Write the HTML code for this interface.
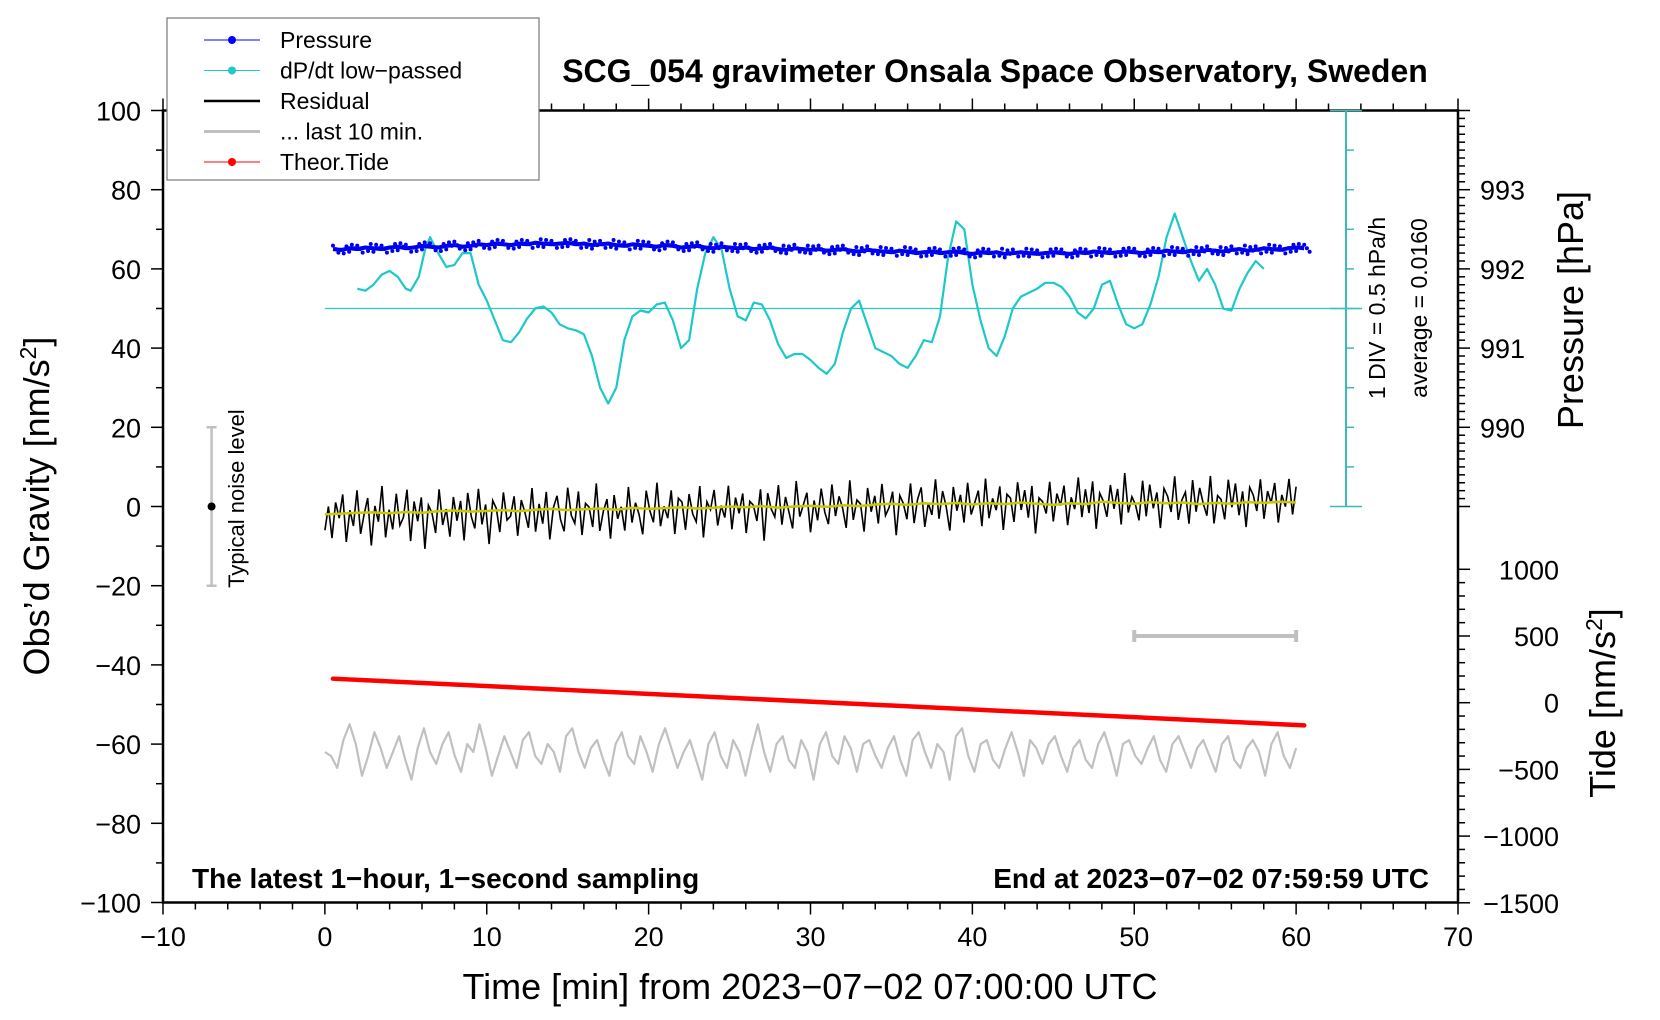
<!DOCTYPE html>
<html><head><meta charset="utf-8"><style>
html,body{margin:0;padding:0;background:#fff}
svg{display:block;font-family:"Liberation Sans",Arial,sans-serif}
</style></head><body>
<svg id="chart" width="1660" height="1020" viewBox="0 0 1660 1020">
<g id="plot"></g>
</svg>
<script>
// ---- data ----
const cyanT=[2,2.5,3,3.5,4,4.5,5,5.3,5.8,6.2,6.5,7,7.5,8,8.5,9,9.5,10,10.5,11,11.5,12,12.5,13,13.5,14,14.5,15,15.5,16,16.5,17,17.5,18,18.5,19,19.5,20,20.5,21,21.5,22,22.5,23,23.5,24,24.5,25,25.5,26,26.5,27,27.5,28,28.5,29,29.5,30,30.5,31,31.5,32,32.5,33,33.5,34,35,35.5,36,36.5,37,37.5,38,38.5,39,39.5,40,40.5,41,41.5,42,42.5,43,44,44.5,45,45.5,46,46.5,47,47.5,48,48.5,49,49.5,50,50.5,51,51.5,52,52.5,53,53.5,54,54.5,55,55.5,56,56.5,57,57.5,58];
const cyanV=[55,54.5,56,58.5,59.5,58,55,54.5,58,65,68,64,60.5,61,64,64,56,52,47,42,41.5,44,47.5,50,50.5,49,46,45,44.5,43.5,38,30,26,30,42,48,49.5,49,51,51.5,47,40,42,55,64,68,65,55,48,47,51.5,51,47,41,37.5,38.5,38.5,37,35,33.5,36,44,50,52,46,40,38,36,35,38,42,41.5,48,63,72,70,56,47,40,38,43,50,53,55,56.5,56.5,55.5,53,49,47.5,50,56,57,51,46,45,46,51,58,68,74,68,62,57,60,56,50,49.5,55,59,62,60];
const pressure=[992.25,992.24,992.26,992.25,992.27,992.26,992.25,992.27,992.28,992.26,992.27,992.29,992.28,992.27,992.29,992.3,992.28,992.29,992.31,992.3,992.32,992.31,992.3,992.32,992.31,992.33,992.32,992.31,992.32,992.33,992.31,992.32,992.3,992.31,992.32,992.3,992.29,992.31,992.3,992.29,992.28,992.3,992.29,992.27,992.28,992.29,992.27,992.26,992.28,992.27,992.26,992.27,992.25,992.26,992.27,992.25,992.24,992.26,992.25,992.24,992.25,992.23,992.24,992.25,992.23,992.22,992.24,992.23,992.22,992.21,992.23,992.22,992.2,992.21,992.22,992.2,992.21,992.22,992.2,992.19,992.21,992.2,992.21,992.19,992.2,992.21,992.2,992.19,992.2,992.21,992.2,992.19,992.21,992.2,992.22,992.21,992.2,992.21,992.22,992.21,992.2,992.22,992.21,992.23,992.22,992.21,992.23,992.22,992.24,992.23,992.22,992.24,992.25,992.23,992.24,992.26,992.25,992.24,992.26,992.27,992.26];
const residual=[-4,2,-6,3,-1,5,-7,1,-3,6,-5,0,4,-8,2,-2,7,-6,1,-4,5,-3,-1,6,-7,3,-2,4,-9,2,0,-5,6,-3,1,-6,4,-2,3,-7,5,-1,-4,6,-3,2,-8,3,1,-5,5,-2,-1,4,-6,3,0,-4,6,-5,2,-3,5,-7,1,4,-2,-5,6,-1,-3,5,-6,2,1,-4,7,-5,0,3,-7,4,-2,1,-5,6,-3,2,-1,-6,5,0,-3,7,-4,1,-2,5,-6,3,2,-5,4,-1,-3,6,-7,2,0,5,-4,1,-2,6,-5,3,-1,4,-6,2,1,-3,5,-8,4,0,-2,6,-4,3,-1,-5,7,-2,1,4,-6,2,-3,5,-1,-4,6,-2,3,0,-5,7,-3,2,1,-6,5,-1,3,-4,6,-2,0,4,-7,3,1,-3,6,-4,2,5,-5,1,-2,7,-3,4,0,-6,5,-1,3,-4,6,-2,1,4,-5,7,-3,2,-1,5,-6,3,2,-4,6,-1,4,-3,5,-7,2,1,-2,6,-4,3,0,5,-5,2,-1,7,-3,4,-2,6,-6,3,1,-3,5,-1,4,-5,8,-2,2,0,-4,6,-3,5,-1,3,-6,4,2,-2,7,-4,1,3,-5,6,-2,4,0,-3,7,-5,2,1,-4,6,-1,5,-3,3,-6,4,2,-2,6,-4,3,0,5,-5,2,-1,6,-3,4];
const smooth=[-2,-1.8,-1.6,-1.5,-1.7,-1.4,-1.6,-1.2,-1,-1.3,-1.1,-0.9,-1.2,-0.8,-0.6,-0.9,-0.7,-0.5,-0.8,-0.3,-0.6,-0.4,-0.2,-0.5,-0.3,0,-0.2,0.1,-0.3,0,0.2,-0.1,0.3,0.1,0.5,0.7,0.4,0.8,0.6,0.9,0.5,0.8,0.6,1,0.7,0.4,0.8,0.6,1.2,0.9,0.7,1.1,0.8,1,0.6,0.9,0.7,1.1,0.9,1.2,1];
const grayV=[-62,-63,-66,-59,-55,-60,-68,-63,-57,-61,-66,-62,-58,-64,-69,-61,-56,-62,-65,-60,-57,-63,-67,-60,-62,-55,-61,-68,-63,-58,-62,-66,-59,-57,-63,-65,-60,-62,-67,-58,-56,-62,-66,-61,-59,-64,-68,-60,-57,-63,-65,-58,-62,-67,-60,-56,-61,-66,-62,-59,-64,-69,-60,-57,-63,-66,-59,-62,-68,-61,-55,-62,-67,-60,-58,-64,-66,-59,-62,-69,-60,-57,-63,-65,-58,-61,-67,-60,-59,-63,-66,-61,-58,-64,-68,-59,-57,-62,-66,-60,-62,-69,-58,-56,-63,-67,-60,-59,-64,-66,-61,-57,-62,-68,-59,-61,-65,-60,-58,-63,-67,-61,-59,-64,-66,-60,-57,-62,-68,-60,-59,-63,-65,-61,-58,-64,-67,-60,-58,-62,-66,-61,-59,-63,-67,-60,-58,-64,-66,-61,-59,-62,-68,-60,-57,-63,-66,-61];
const tideT=[0.5,60.5];
const tideV=[180,-170];
const xTicks=[-10,0,10,20,30,40,50,60,70];
const yTicks=[100,80,60,40,20,0,-20,-40,-60,-80,-100];
const pTicks=[993,992,991,990];
const tTicks=[1000,500,0,-500,-1000,-1500];
// ---- axes ----
const L=163,R=1458,T=110.5,B=902.5;
const X=t=>L+(t+10)*(R-L)/80;
const Y=g=>T+(100-g)*(B-T)/200;
const YP=p=>Y(60+(p-992)*20);
const YT=v=>702.7-v*0.1334;
const svg=document.getElementById('plot');
const NS='http://www.w3.org/2000/svg';
function mk(tag,attrs,parent){const e=document.createElementNS(NS,tag);for(const k in attrs)e.setAttribute(k,attrs[k]);(parent||svg).appendChild(e);return e;}
function txt(s,attrs){const e=mk('text',attrs);e.textContent=s;return e;}
let d;
let e=mk('rect',{x:L,y:T,width:R-L,height:B-T,fill:'none',stroke:'#000','stroke-width':2.5});


for(let t=-10;t<=70;t+=2){const maj=t%10===0;
 e=mk('line',{x1:X(t),x2:X(t),y1:B,y2:B+(maj?12:7),stroke:'#000','stroke-width':1.5});
 
 e=mk('line',{x1:X(t),x2:X(t),y1:T,y2:T-(maj?12:7),stroke:'#000','stroke-width':1.5});
 }
xTicks.forEach(t=>{e=txt(String(t).replace('-','\u2212'),{x:X(t),y:946,'font-size':27,'text-anchor':'middle'});
 });
for(let g=-100;g<=100;g+=10){const maj=g%20===0;
 e=mk('line',{x1:L,x2:L-(maj?12:7),y1:Y(g),y2:Y(g),stroke:'#000','stroke-width':1.5});
 }
yTicks.forEach(g=>{e=txt(String(g).replace('-','\u2212'),{x:141,y:Y(g)+10,'font-size':27,'text-anchor':'end'});
 });
for(let i=0;i<=50;i++){const p=989+i*0.1;const y=YP(p);if(y<T||y>Y(0)+20)continue;const maj=i%10===0;
 e=mk('line',{x1:R,x2:R+(maj?12:7),y1:y,y2:y,stroke:'#000','stroke-width':1.5});
 }
pTicks.forEach(p=>{e=txt(String(p),{x:1480,y:YP(p)+10,'font-size':27});
 });
for(let v=-1500;v<=1000;v+=100){const maj=v%500===0;
 e=mk('line',{x1:R,x2:R+(maj?12:7),y1:YT(v),y2:YT(v),stroke:'#000','stroke-width':1.5});
 }
tTicks.forEach(v=>{e=txt(String(v).replace('-','\u2212'),{x:1559,y:YT(v)+10,'font-size':27,'text-anchor':'end'});
 });
const sx=1346;
e=mk('line',{x1:sx,x2:sx,y1:Y(100),y2:Y(0),stroke:'#3fb8b8','stroke-width':2});

for(let g=0;g<=100;g+=10){e=mk('line',{x1:g%50===0?1330:sx,x2:g%50===0?1362:sx+8,y1:Y(g),y2:Y(g),stroke:'#3fb8b8','stroke-width':1.5});
 }
e=mk('line',{x1:X(0),x2:1360,y1:Y(50),y2:Y(50),stroke:'#2ec4c4','stroke-width':1.3});

d=cyanT.map((t,i)=>(i?'L':'M')+X(t).toFixed(1)+' '+Y(cyanV[i]).toFixed(1)).join('');
e=mk('path',{d:d,fill:'none',stroke:'#1cc8c8','stroke-width':2.2,'stroke-linejoin':'round'});

d=pressure.map((p,i)=>(i?'L':'M')+X(0.5+i*0.5).toFixed(1)+' '+YP(p).toFixed(1)).join('');
e=mk('path',{d:d,fill:'none',stroke:'#0000f0','stroke-width':4,'stroke-linejoin':'round'});

pressure.forEach((p,i)=>{for(let k=0;k<3;k++){e=mk('circle',{cx:X(0.5+i*0.5)+k*2.7,cy:YP(p)+((i+k)%3-1)*3.5,r:2,fill:'#0000f0'});
 }});
d=residual.map((v,i)=>(i?'L':'M')+X(i*60/(residual.length-1)).toFixed(1)+' '+Y(v+(-2+3*i/residual.length)).toFixed(1)).join('');
e=mk('path',{d:d,fill:'none',stroke:'#000','stroke-width':1.6});

d=smooth.map((v,i)=>(i?'L':'M')+X(i).toFixed(1)+' '+Y(v).toFixed(1)).join('');
e=mk('path',{d:d,fill:'none',stroke:'#c8c800','stroke-width':2.5});

d=tideT.map((t,i)=>(i?'L':'M')+X(t)+' '+YT(tideV[i])).join('');
e=mk('path',{d:d,fill:'none',stroke:'#ff0000','stroke-width':4.5,'stroke-linecap':'round'});

d=grayV.map((v,i)=>(i?'L':'M')+X(i*60/(grayV.length-1)).toFixed(1)+' '+Y(v).toFixed(1)).join('');
e=mk('path',{d:d,fill:'none',stroke:'#c0c0c0','stroke-width':2.2,'stroke-linejoin':'round'});

e=mk('path',{d:`M${X(50)} ${YT(500)}H${X(60)}M${X(50)} ${YT(500)-6}v12M${X(60)} ${YT(500)-6}v12`,stroke:'#c0c0c0','stroke-width':4,fill:'none'});

e=mk('path',{d:`M${X(-7)} ${Y(20)}V${Y(-20)}M${X(-7)-5} ${Y(20)}h10M${X(-7)-5} ${Y(-20)}h10`,stroke:'#c0c0c0','stroke-width':2.5,fill:'none'});

e=mk('circle',{cx:X(-7),cy:Y(0),r:4,fill:'#000'});

e=txt('Typical noise level',{x:0,y:0,'font-size':22,'text-anchor':'middle',transform:`translate(244,${Y(2)}) rotate(-90)`});

e=txt('1 DIV = 0.5 hPa/h',{x:0,y:0,'font-size':23,'text-anchor':'middle',transform:`translate(1385,308) rotate(-90)`});

e=txt('average = 0.0160',{x:0,y:0,'font-size':23,'text-anchor':'middle',transform:`translate(1427,308) rotate(-90)`});

e=txt('SCG_054 gravimeter Onsala Space Observatory, Sweden',{x:995,y:82,'font-size':32,'font-weight':'bold','text-anchor':'middle'});

e=txt('The latest 1\u2212hour, 1\u2212second sampling',{x:192,y:888,'font-size':28,'font-weight':'bold'});

e=txt('End at 2023\u221207\u221202 07:59:59 UTC',{x:1429,y:888,'font-size':28,'font-weight':'bold','text-anchor':'end'});

e=txt('Time [min] from 2023\u221207\u221202 07:00:00 UTC',{x:810,y:999,'font-size':36,'text-anchor':'middle'});

e=mk('text',{x:0,y:0,'font-size':36,'text-anchor':'middle',transform:'translate(49,506) rotate(-90)'});
e.innerHTML='Obs\u2019d Gravity [nm/s<tspan dy="-13" font-size="23">2</tspan><tspan dy="13">]</tspan>';

e=txt('Pressure [hPa]',{x:0,y:0,'font-size':36,'text-anchor':'middle',transform:'translate(1583,310) rotate(-90)'});

e=mk('text',{x:0,y:0,'font-size':36,'text-anchor':'middle',transform:'translate(1615,703) rotate(-90)'});
e.innerHTML='Tide [nm/s<tspan dy="-13" font-size="23">2</tspan><tspan dy="13">]</tspan>';

const lg=mk('g',{});

mk('rect',{x:167,y:18,width:372,height:162,fill:'#fff',stroke:'#777','stroke-width':1.2},lg);
const items=[['Pressure','#0000f0',1,true],['dP/dt low\u2212passed','#1cc8c8',1,true],['Residual','#000',2.5,false],['... last 10 min.','#c0c0c0',3,false],['Theor.Tide','#ff0000',1,true]];
items.forEach((it,i)=>{const y=40+i*30.5;
 const g=mk('g',{},lg);
 
 
 mk('line',{x1:204,x2:260,y1:y,y2:y,stroke:it[1],'stroke-width':it[2]},g);
 if(it[3])mk('circle',{cx:232,cy:y,r:4,fill:it[1]},g);
 const t=mk('text',{x:280,y:y+8,'font-size':23},g);t.textContent=it[0];});
</script>
</body></html>
